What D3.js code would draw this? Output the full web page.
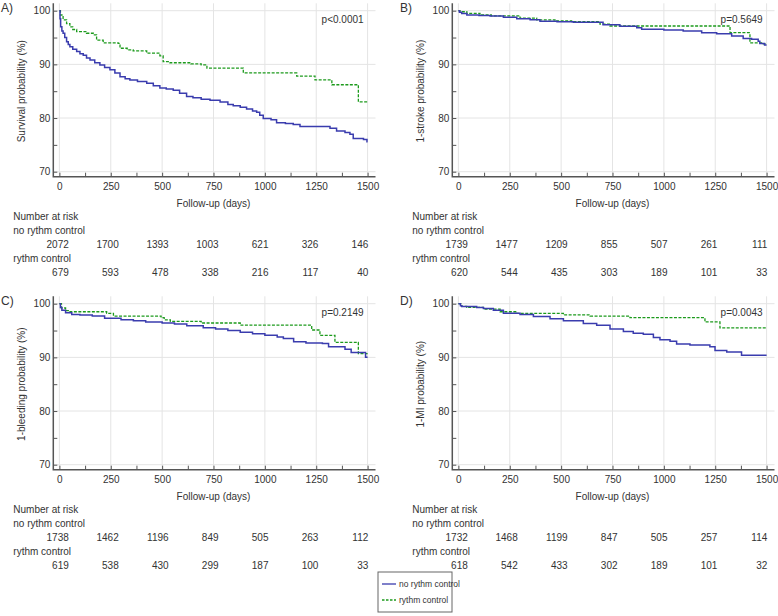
<!DOCTYPE html>
<html>
<head>
<meta charset="utf-8">
<script src="https://cdn.jsdelivr.net/npm/d3@7"></script>
<style>
  body { margin: 0; background: #fff; }
  svg { display: block; font-family: "Liberation Sans", Arial, sans-serif; }
</style>
</head>
<body>
<div id="chart"></div>
<script>
// Kaplan-Meier curves: [day, probability %]
const survNoRhythm = [[0,100],[3,98.5],[6,97.0],[12,96.2],[18,95.8],[26,95.0],[35,94.2],[43,93.7],[51,93.3],[65,92.8],[84,92.4],[100,92.0],[116,91.7],[132,91.2],[149,90.8],[172,90.3],[197,89.9],[220,89.4],[246,89.0],[270,88.4],[295,87.7],[320,87.3],[343,87.1],[380,86.8],[425,86.5],[457,86.0],[489,85.6],[520,85.4],[554,85.2],[585,84.6],[619,84.0],[650,83.8],[690,83.5],[733,83.3],[782,83.0],[820,82.5],[846,82.3],[880,82.0],[911,81.7],[940,81.3],[960,81.1],[975,80.5],[992,79.9],[1030,79.7],[1057,79.1],[1100,79.0],[1138,78.8],[1171,78.4],[1317,78.1],[1349,77.6],[1390,77.3],[1414,77.0],[1430,76.2],[1480,76.0],[1497,75.6],[1500,75.6]];
const survRhythm = [[0,100],[5,99.2],[18,98.3],[35,97.6],[51,97.0],[65,96.5],[84,96.1],[132,95.8],[165,95.5],[181,94.5],[213,94.0],[286,93.9],[295,93.0],[330,92.7],[359,92.5],[425,92.1],[489,91.6],[505,90.5],[538,90.3],[640,90.1],[690,89.9],[718,89.3],[895,88.4],[1155,87.8],[1244,87.1],[1326,86.2],[1455,83.0],[1500,83.0]];

const strokeNoRhythm = [[0,100],[5,99.7],[16,99.5],[41,99.2],[100,99.1],[154,99.0],[219,98.8],[284,98.5],[349,98.3],[397,98.05],[480,97.95],[559,97.85],[704,97.4],[786,97.1],[868,96.8],[892,96.55],[1000,96.4],[1094,96.2],[1184,95.9],[1257,95.7],[1330,95.3],[1386,94.8],[1427,94.7],[1459,94.3],[1467,93.9],[1490,93.6],[1500,93.6]];
const strokeRhythm = [[0,100],[8,99.8],[41,99.5],[105,99.2],[160,99.05],[300,98.6],[381,98.3],[470,98.1],[551,97.95],[689,97.5],[738,97.15],[1322,95.9],[1419,94.0],[1480,93.8],[1500,93.8]];

const bleedNoRhythm = [[0,100],[5,99.3],[12,98.8],[30,98.3],[60,98.0],[100,97.9],[160,97.7],[220,97.3],[300,97.0],[360,96.8],[420,96.6],[500,96.4],[560,96.2],[620,95.9],[700,95.5],[760,95.3],[820,95.0],[880,94.7],[940,94.4],[1000,94.1],[1060,93.8],[1090,93.5],[1140,92.9],[1200,92.7],[1280,92.6],[1310,92.0],[1390,91.5],[1420,90.9],[1490,90.0],[1500,90.0]];
const bleedRhythm = [[0,100],[10,99.2],[30,98.7],[50,98.5],[230,98.2],[263,97.7],[495,97.4],[510,97.0],[540,96.7],[690,96.4],[880,96.0],[1228,95.1],[1268,94.1],[1341,92.8],[1455,90.7],[1500,90.7]];

const miNoRhythm = [[0,100],[10,99.6],[16,99.5],[89,99.3],[122,99.1],[170,98.8],[219,98.2],[300,98.0],[365,97.6],[446,97.2],[511,96.8],[608,96.3],[673,96.0],[738,95.3],[803,94.8],[851,94.5],[900,94.3],[949,93.7],[981,93.3],[1030,93.0],[1062,92.5],[1127,92.3],[1224,92.0],[1249,91.3],[1306,91.0],[1378,90.4],[1500,90.4]];
const miRhythm = [[0,100],[16,99.5],[40,99.3],[122,99.0],[203,98.5],[284,98.2],[511,97.9],[641,97.7],[835,97.4],[1200,96.6],[1273,95.5],[1500,95.5]];

// Numbers at risk at 0, 250, ..., 1500 days
const riskDays = [0, 250, 500, 750, 1000, 1250, 1500];
const riskSurvNo = [2072, 1700, 1393, 1003, 621, 326, 146];
const riskSurvRc = [679, 593, 478, 338, 216, 117, 40];
const riskStrokeNo = [1739, 1477, 1209, 855, 507, 261, 111];
const riskStrokeRc = [620, 544, 435, 303, 189, 101, 33];
const riskBleedNo = [1738, 1462, 1196, 849, 505, 263, 112];
const riskBleedRc = [619, 538, 430, 299, 187, 100, 33];
const riskMiNo = [1732, 1468, 1199, 847, 505, 257, 114];
const riskMiRc = [618, 542, 433, 302, 189, 101, 32];

const xTicks = [0, 250, 500, 750, 1000, 1250, 1500];
const xMinorTicks = d3.range(0, 1501, 125);
const yTicks = [70, 80, 90, 100];
const yMinorTicks = [70, 75, 80, 85, 90, 95, 100];

const seriesNames = ['no rythm control', 'rythm control'];

const panels = [
    { tag: 'A)', yTitle: 'Survival probability (%)', p: 'p<0.0001', no: survNoRhythm, rc: survRhythm, riskNo: riskSurvNo, riskRc: riskSurvRc, ox: 0, oy: 0 },
    { tag: 'B)', yTitle: '1-stroke probability (%)', p: 'p=0.5649', no: strokeNoRhythm, rc: strokeRhythm, riskNo: riskStrokeNo, riskRc: riskStrokeRc, ox: 399, oy: 0 },
    { tag: 'C)', yTitle: '1-bleeding probability (%)', p: 'p=0.2149', no: bleedNoRhythm, rc: bleedRhythm, riskNo: riskBleedNo, riskRc: riskBleedRc, ox: 0, oy: 293 },
    { tag: 'D)', yTitle: '1-MI probability (%)', p: 'p=0.0043', no: miNoRhythm, rc: miRhythm, riskNo: riskMiNo, riskRc: riskMiRc, ox: 399, oy: 293 }
];

const COLORS = { blue: '#3a3cae', green: '#1c9a1c', grid: '#e4e4e4', axis: '#555', text: '#333' };
const width = 778, height = 616;

const svg = d3.select('#chart').append('svg')
    .attr('width', width).attr('height', height)
    .attr('viewBox', `0 0 ${width} ${height}`);

// plot frame inside each panel
const axisX = 53.3, axisTop = 3.3, axisBottom = 176.7, axisRight = 375.5;
const x = d3.scaleLinear().domain([0, 1500]).range([59.4, 367.6]);
const y = d3.scaleLinear().domain([70, 100]).range([171.7, 10.7]);
const riskCol = d3.scalePoint().domain(riskDays).range([axisX + 15.5, axisX + 315]);

const line = d3.line()
    .x((d) => x(d[0]))
    .y((d) => y(d[1]))
    .curve(d3.curveStepAfter);

panels.forEach((p) => {
    const g = svg.append('g').attr('transform', `translate(${p.ox},${p.oy})`)
        .attr('font-size', 10).attr('fill', COLORS.text);

    // Gridlines
    g.append('g')
        .selectAll('line.vgrid').data(xTicks).enter().append('line')
        .attr('x1', (d) => x(d)).attr('x2', (d) => x(d))
        .attr('y1', axisTop).attr('y2', axisBottom)
        .attr('stroke', COLORS.grid);
    g.append('g')
        .selectAll('line.hgrid').data(yTicks).enter().append('line')
        .attr('x1', axisX).attr('x2', axisRight)
        .attr('y1', (d) => y(d)).attr('y2', (d) => y(d))
        .attr('stroke', COLORS.grid);

    // Axes, ticks pointing inward
    g.append('g').attr('transform', `translate(0,${axisBottom})`)
        .call(d3.axisBottom(x).tickValues(xMinorTicks).tickSize(-4).tickPadding(6)
            .tickFormat((d) => (d % 250 === 0 ? d : '')))
        .call((sel) => sel.select('.domain').remove())
        .call((sel) => sel.selectAll('line').attr('stroke', COLORS.axis))
        .call((sel) => sel.selectAll('text').attr('fill', COLORS.text).attr('font-size', 10)
            .attr('font-family', null));
    g.append('g').attr('transform', `translate(${axisX},0)`)
        .call(d3.axisLeft(y).tickValues(yMinorTicks).tickSize(-4).tickPadding(3)
            .tickFormat((d) => (d % 10 === 0 ? d : '')))
        .call((sel) => sel.select('.domain').remove())
        .call((sel) => sel.selectAll('line').attr('stroke', COLORS.axis))
        .call((sel) => sel.selectAll('text').attr('fill', COLORS.text).attr('font-size', 10)
            .attr('font-family', null));

    g.append('path')
        .attr('d', `M${axisX},${axisTop}V${axisBottom}H${axisRight}`)
        .attr('fill', 'none').attr('stroke', COLORS.axis).attr('stroke-width', 1.5);

    // Curves
    g.append('path').datum(p.rc).attr('d', line)
        .attr('fill', 'none').attr('stroke', COLORS.green)
        .attr('stroke-width', 1.3).attr('stroke-dasharray', '3,1.5');
    g.append('path').datum(p.no).attr('d', line)
        .attr('fill', 'none').attr('stroke', COLORS.blue).attr('stroke-width', 1.5);

    // Labels
    g.append('text').attr('x', 1).attr('y', 12).attr('font-size', 12).text(p.tag);
    g.append('text').attr('x', x(1500) - 4).attr('y', 23).attr('text-anchor', 'end').text(p.p);
    g.append('text')
        .attr('transform', `translate(${axisX - 32},${(y(70) + y(100)) / 2}) rotate(-90)`)
        .attr('text-anchor', 'middle').attr('dy', '0.35em').text(p.yTitle);
    g.append('text').attr('x', (x(0) + x(1500)) / 2).attr('y', 207)
        .attr('text-anchor', 'middle').text('Follow-up (days)');

    // Number at risk table
    g.append('text').attr('x', axisX - 40).attr('y', 220).text('Number at risk');
    g.append('text').attr('x', axisX - 40).attr('y', 234).text(seriesNames[0]);
    g.append('text').attr('x', axisX - 40).attr('y', 262).text(seriesNames[1]);
    g.selectAll('text.rno').data(p.riskNo).enter().append('text')
        .attr('class', 'rno')
        .attr('x', (d, i) => riskCol(riskDays[i])).attr('y', 248)
        .attr('text-anchor', 'end').text((d) => d);
    g.selectAll('text.rrc').data(p.riskRc).enter().append('text')
        .attr('class', 'rrc')
        .attr('x', (d, i) => riskCol(riskDays[i])).attr('y', 276)
        .attr('text-anchor', 'end').text((d) => d);
});

// Legend
const legend = svg.append('g').attr('transform', 'translate(378,572)').attr('font-size', 8.5).attr('fill', COLORS.text);
legend.append('rect').attr('width', 74).attr('height', 40)
    .attr('fill', '#fff').attr('stroke', '#666');
const legendItems = [
    { name: seriesNames[0], color: COLORS.blue, dash: null },
    { name: seriesNames[1], color: COLORS.green, dash: '2.5,1.5' }
];
legend.selectAll('g.item').data(legendItems).enter().append('g')
    .attr('class', 'item')
    .attr('transform', (d, i) => `translate(0,${12 + i * 16})`)
    .each(function (d) {
        const it = d3.select(this);
        it.append('line').attr('x1', 4).attr('x2', 18)
            .attr('stroke', d.color).attr('stroke-width', 1.3)
            .attr('stroke-dasharray', d.dash);
        it.append('text').attr('x', 21).attr('dy', '0.35em').text(d.name);
    });
</script>
</body>
</html>
